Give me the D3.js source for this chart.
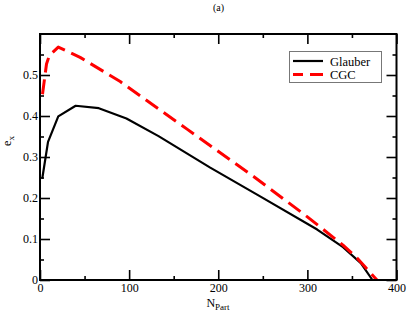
<!DOCTYPE html>
<html>
<head>
<meta charset="utf-8">
<script src="https://cdn.jsdelivr.net/npm/d3@7.9.0/dist/d3.min.js"></script>
<style>
  body { margin: 0; background: #fff; }
  svg { display: block; }
  svg text { font-family: "Liberation Serif", "Times New Roman", "DejaVu Serif", serif; fill: #000; }
</style>
</head>
<body>
<svg id="chart" width="409" height="316"></svg>
<script>
// Data
const glauberN = [2.5, 9, 20.5, 40, 66, 97, 133, 191, 247, 311, 340, 360, 373];
const glauberE = [0.247, 0.337, 0.399, 0.425, 0.419, 0.394, 0.351, 0.274, 0.204, 0.123, 0.080, 0.041, 0.0];

const cgcN = [2.8, 7.3, 10.4, 20.5, 45, 90, 165, 240, 300, 340, 356, 378];
const cgcE = [0.453, 0.527, 0.547, 0.568, 0.543, 0.484, 0.368, 0.252, 0.154, 0.085, 0.053, 0.0];

const xTicks = [0, 100, 200, 300, 400];
const xMinor = [50, 150, 250, 350];
const yTicks = [0, 0.1, 0.2, 0.3, 0.4, 0.5];
const yMinor = [0.05, 0.15, 0.25, 0.35, 0.45, 0.55];

const series = [
  { name: "Glauber", xs: glauberN, ys: glauberE, color: "#000", width: 2.2, dash: null },
  { name: "CGC", xs: cgcN, ys: cgcE, color: "#ff0000", width: 3, dash: "15,7" }
];

const svg = d3.select("#chart");
const plotL = 40, plotR = 396.5, plotT = 34, plotB = 280;

const x = d3.scaleLinear().domain([0, 400]).range([plotL, plotR]);
const y = d3.scaleLinear().domain([0, 0.6]).range([plotB, plotT]);

// title
svg.append("text")
  .attr("x", 218.5).attr("y", 11)
  .attr("text-anchor", "middle")
  .attr("font-size", 10)
  .text("(a)");

// curves
const line = d3.line().x(d => x(d[0])).y(d => y(d[1]));
series.forEach(s => {
  const pts = s.xs.map((v, i) => [v, s.ys[i]]);
  svg.append("path")
    .attr("d", line(pts))
    .attr("fill", "none")
    .attr("stroke", s.color)
    .attr("stroke-width", s.width)
    .attr("stroke-linejoin", "round")
    .attr("stroke-dasharray", s.dash);
});

// axes, ticks pointing inward on all four sides
function styleAxis(g) {
  g.attr("font-family", null).attr("font-size", 12);
  g.select(".domain").remove();
  g.selectAll(".tick line").attr("stroke", "#000").attr("stroke-width", 1.6);
  g.selectAll(".tick text").attr("fill", "#000");
}

const yFmt = d => d === 0 ? "0" : d.toFixed(1);

svg.append("g").attr("transform", `translate(0,${plotB})`)
  .call(d3.axisBottom(x).tickValues(xTicks).tickSize(-10).tickPadding(3).tickFormat(d3.format("d")))
  .call(styleAxis);
svg.append("g").attr("transform", `translate(0,${plotB})`)
  .call(d3.axisBottom(x).tickValues(xMinor).tickSize(-4).tickFormat(""))
  .call(styleAxis);
svg.append("g").attr("transform", `translate(0,${plotT})`)
  .call(d3.axisTop(x).tickValues(xTicks).tickSize(-10).tickFormat(""))
  .call(styleAxis);
svg.append("g").attr("transform", `translate(0,${plotT})`)
  .call(d3.axisTop(x).tickValues(xMinor).tickSize(-4).tickFormat(""))
  .call(styleAxis);

svg.append("g").attr("transform", `translate(${plotL},0)`)
  .call(d3.axisLeft(y).tickValues(yTicks).tickSize(-10).tickPadding(2).tickFormat(yFmt))
  .call(styleAxis);
svg.append("g").attr("transform", `translate(${plotL},0)`)
  .call(d3.axisLeft(y).tickValues(yMinor).tickSize(-4).tickFormat(""))
  .call(styleAxis);
svg.append("g").attr("transform", `translate(${plotR},0)`)
  .call(d3.axisRight(y).tickValues(yTicks).tickSize(-10).tickFormat(""))
  .call(styleAxis);
svg.append("g").attr("transform", `translate(${plotR},0)`)
  .call(d3.axisRight(y).tickValues(yMinor).tickSize(-4).tickFormat(""))
  .call(styleAxis);

// frame
svg.append("rect")
  .attr("x", plotL).attr("y", plotT)
  .attr("width", plotR - plotL).attr("height", plotB - plotT)
  .attr("fill", "none").attr("stroke", "#000").attr("stroke-width", 2);

// axis titles
const xl = svg.append("text")
  .attr("x", 218).attr("y", 307)
  .attr("text-anchor", "middle")
  .attr("font-size", 12);
xl.append("tspan").text("N");
xl.append("tspan").attr("font-size", 9).attr("dy", 3).text("Part");

const yl = svg.append("text")
  .attr("transform", "translate(11,141) rotate(-90)")
  .attr("text-anchor", "middle")
  .attr("font-size", 12);
yl.append("tspan").text("e");
yl.append("tspan").attr("font-size", 9).attr("dy", 3).text("x");

// legend
const lg = svg.append("g");
lg.append("rect")
  .attr("x", 289.5).attr("y", 51.5).attr("width", 92).attr("height", 31)
  .attr("fill", "#fff").attr("stroke", "#777").attr("stroke-width", 1);
series.forEach((s, i) => {
  const ly = 61 + i * 13.5;
  lg.append("line")
    .attr("x1", 293).attr("x2", 323).attr("y1", ly).attr("y2", ly)
    .attr("stroke", s.color).attr("stroke-width", s.width)
    .attr("stroke-dasharray", s.dash)
    .attr("stroke-dashoffset", s.dash ? 5 : null);
  lg.append("text")
    .attr("x", 330).attr("y", ly + 4.5)
    .attr("font-size", 12.5)
    .text(s.name);
});
</script>
</body>
</html>
